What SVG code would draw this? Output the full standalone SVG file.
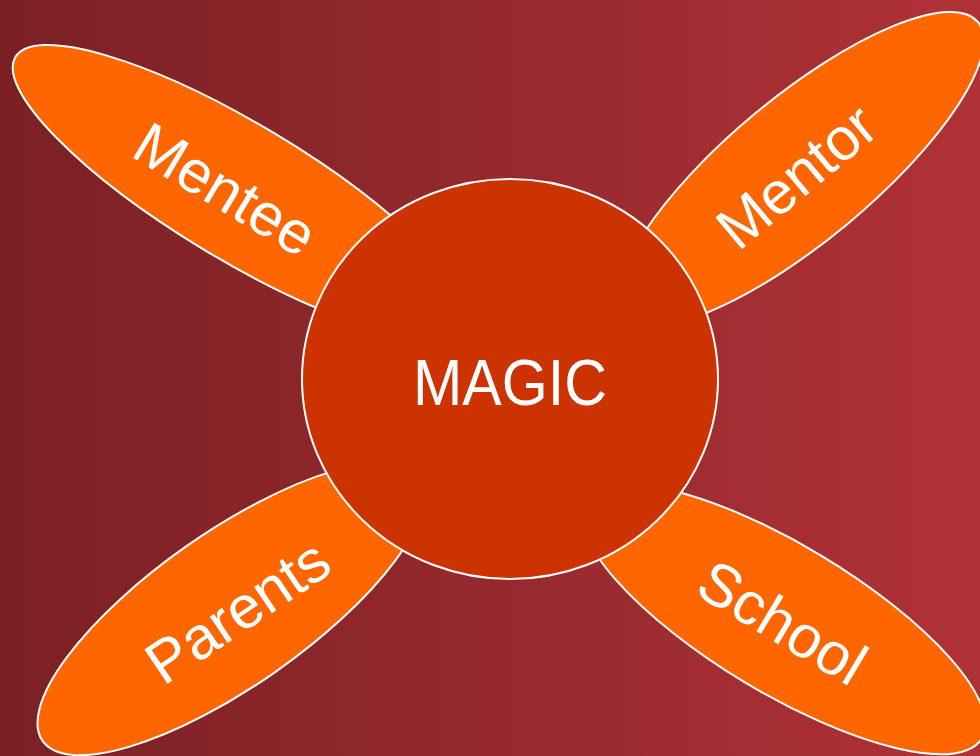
<svg xmlns="http://www.w3.org/2000/svg" width="980" height="756" viewBox="0 0 980 756">
  <defs>
    <linearGradient id="bg" x1="0" y1="0" x2="1" y2="0">
      <stop offset="0" stop-color="#7a2024"/>
      <stop offset="1" stop-color="#b03237"/>
    </linearGradient>
    <style>
      .petal { fill: #ff6600; stroke: #ffffff; stroke-width: 2; }
      .hub { fill: #cc3300; stroke: #ffffff; stroke-width: 2; }
      .lbl { font-family: "Liberation Sans", Arial, sans-serif; font-size: 60px; fill: #ffffff; text-anchor: middle; }
      .hubtxt { font-family: "Liberation Sans", Arial, sans-serif; font-size: 65px; fill: #ffffff; text-anchor: middle; }
    </style>
  </defs>
  <rect x="0" y="0" width="980" height="756" fill="url(#bg)"/>
  <g id="connectors"></g>
  <g id="mentee">
    <ellipse class="petal" cx="0" cy="0" rx="262" ry="68" transform="translate(240,192) rotate(31)"/>
    <text class="lbl" x="0" y="20" transform="translate(225,190) rotate(31)">Mentee</text>
  </g>
  <g id="mentor">
    <ellipse class="petal" cx="0" cy="0" rx="230" ry="72" transform="translate(801,169) rotate(-39.7)"/>
    <text class="lbl" x="0" y="20" transform="translate(797,177) rotate(-40)">Mentor</text>
  </g>
  <g id="parents">
    <ellipse class="petal" cx="0" cy="0" rx="230" ry="77" transform="translate(231,609) rotate(-35)"/>
    <text class="lbl" x="0" y="20" transform="translate(238,612) rotate(-34)">Parents</text>
  </g>
  <g id="school">
    <ellipse class="petal" cx="0" cy="0" rx="232" ry="74" transform="translate(783,619) rotate(31)"/>
    <text class="lbl" x="0" y="20" transform="translate(782,623) rotate(31)">School</text>
  </g>
  <g id="magic">
    <ellipse class="hub" cx="510" cy="379" rx="208" ry="200"/>
    <text class="hubtxt" x="510" y="405" textLength="194" lengthAdjust="spacingAndGlyphs">MAGIC</text>
  </g>
</svg>
